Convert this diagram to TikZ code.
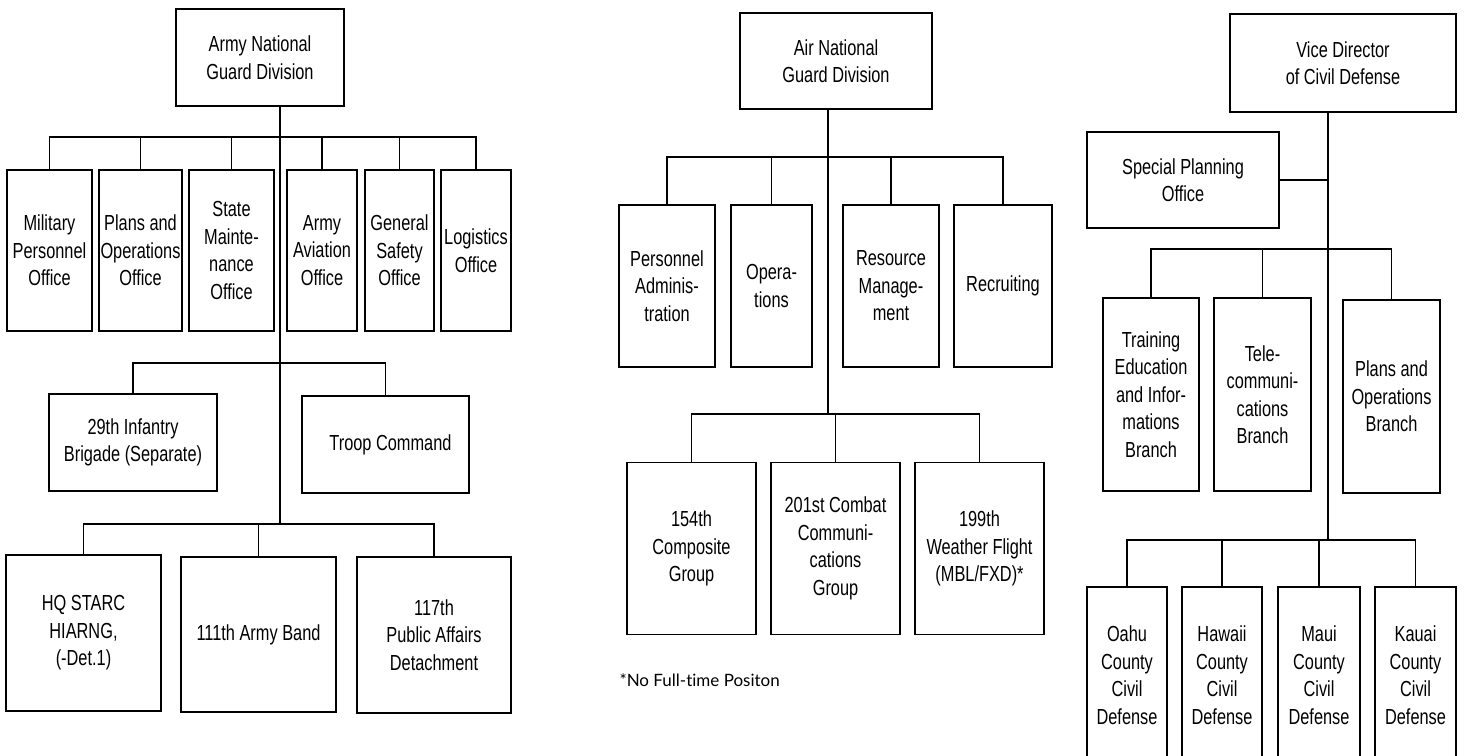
\documentclass[tikz,border=0pt]{standalone}
\usepackage{fontspec}
\setmainfont{Liberation Sans}[FakeStretch=0.75]
\newfontfamily\notefont{Lato}[Ligatures={NoCommon,NoRare}]
\tikzset{
  unit/.style={draw,line width=1.7pt,align=center,inner sep=0pt,
    font={\fontsize{21.8}{27.5}\selectfont}},
  link/.style={line width=1.7pt}
}
\begin{document}
\begin{tikzpicture}[x=1pt,y=-1pt]
  \useasboundingbox (0,0) rectangle (1464,755);
  \clip (0,0) rectangle (1464,755);

  % Army National Guard Division
  \node[unit,minimum width=168,minimum height=97] (arng) at (260,57.5) {Army National\\Guard Division};
  \coordinate (aj1) at (280,137);
  \coordinate (aj2) at (280,363);
  \coordinate (aj3) at (280,524);

  \node[unit,minimum width=85,minimum height=161] (mpo) at (49.5,250.5) {Military\\Personnel\\Office};
  \node[unit,minimum width=83,minimum height=161] (ppo) at (140.5,250.5) {Plans and\\Operations\\Office};
  \node[unit,minimum width=85,minimum height=161] (smo) at (231.5,250.5) {State\\Mainte-\\nance\\Office};
  \node[unit,minimum width=70,minimum height=161] (aao) at (322,250.5) {Army\\Aviation\\Office};
  \node[unit,minimum width=69,minimum height=161] (gso) at (399.5,250.5) {General\\Safety\\Office};
  \node[unit,minimum width=70,minimum height=161] (lgo) at (476,250.5) {Logistics\\Office};

  \node[unit,minimum width=168,minimum height=97] (ib) at (133,442.5) {29th Infantry\\Brigade (Separate)};
  \node[unit,minimum width=167,minimum height=97] (tc) at (385.5,444.5) {\hspace*{10pt}Troop Command};

  \node[unit,minimum width=155,minimum height=156] (hq) at (83.5,633) {HQ STARC\\HIARNG,\\(-Det.1)};
  \node[unit,minimum width=155,minimum height=155] (band) at (258.5,634.5) {111th Army Band};
  \node[unit,minimum width=154,minimum height=156] (pad) at (434,635) {117th\\Public Affairs\\Detachment};

  \draw[link] (arng.south -| aj1) -- (aj3);
  \draw[link] (mpo.north) |- (aj1) -| (lgo.north);
  \foreach \n in {ppo,smo,aao,gso}
    \draw[link] (\n.north) -- (\n.north |- aj1);
  \draw[link] (ib.north) |- (aj2) -| (tc.north);
  \draw[link] (hq.north) |- (aj3) -| (pad.north);
  \draw[link] (band.north) -- (band.north |- aj3);

  % Air National Guard Division
  \node[unit,minimum width=192,minimum height=96] (angd) at (836,61) {Air National\\Guard Division};
  \coordinate (nj1) at (828,157);
  \coordinate (nj2) at (828,414);

  \node[unit,minimum width=96,minimum height=162] (pa) at (667,286) {Personnel\\Adminis-\\tration};
  \node[unit,minimum width=81,minimum height=162] (ops) at (771.5,286) {Opera-\\tions};
  \node[unit,minimum width=96,minimum height=162] (rm) at (891,286) {Resource\\Manage-\\ment};
  \node[unit,minimum width=98,minimum height=162] (rec) at (1003,286) {Recruiting};

  \node[unit,minimum width=129,minimum height=172] (cg) at (691.5,548.5) {154th\\Composite\\Group};
  \node[unit,minimum width=129,minimum height=172] (ccg) at (835.5,548.5) {201st Combat\\Communi-\\cations\\Group};
  \node[unit,minimum width=129,minimum height=172] (wf) at (979.5,548.5) {199th\\Weather Flight\\(MBL/FXD)*};

  \node[anchor=west,font={\notefont\fontsize{17}{19}\selectfont}] (note) at (616,680) {*No Full-time Positon};

  \draw[link] (angd.south -| nj1) -- (nj2);
  \draw[link] (pa.north) |- (nj1) -| (rec.north);
  \foreach \n in {ops,rm}
    \draw[link] (\n.north) -- (\n.north |- nj1);
  \draw[link] (cg.north) |- (nj2) -| (wf.north);
  \draw[link] (ccg.north) -- (ccg.north |- nj2);

  % Vice Director of Civil Defense
  \node[unit,minimum width=226,minimum height=98] (vdcd) at (1343,63) {Vice Director\\of Civil Defense};
  \node[unit,minimum width=192,minimum height=96] (spo) at (1183,180) {Special Planning\\Office};
  \coordinate (cj1) at (1328,249);
  \coordinate (cj2) at (1328,540);

  \node[unit,minimum width=96,minimum height=193] (tei) at (1151,394.5) {Training\\Education\\and Infor-\\mations\\Branch};
  \node[unit,minimum width=97,minimum height=193] (tel) at (1262.5,394.5) {Tele-\\communi-\\cations\\Branch};
  \node[unit,minimum width=97,minimum height=193] (pob) at (1391.5,396.5) {Plans and\\Operations\\Branch};

  \node[unit,minimum width=80,minimum height=176] (oahu) at (1127,675) {Oahu\\County\\Civil\\Defense};
  \node[unit,minimum width=80,minimum height=176] (hawaii) at (1222,675) {Hawaii\\County\\Civil\\Defense};
  \node[unit,minimum width=82,minimum height=176] (maui) at (1319,675) {Maui\\County\\Civil\\Defense};
  \node[unit,minimum width=81,minimum height=176] (kauai) at (1415.5,675) {Kauai\\County\\Civil\\Defense};

  \draw[link] (vdcd.south -| cj1) -- (cj2);
  \draw[link] (spo.east) -- (spo.east -| cj1);
  \draw[link] (tei.north) |- (cj1) -| (pob.north);
  \draw[link] (tel.north) -- (tel.north |- cj1);
  \draw[link] (oahu.north) |- (cj2) -| (kauai.north);
  \foreach \n in {hawaii,maui}
    \draw[link] (\n.north) -- (\n.north |- cj2);
\end{tikzpicture}
\end{document}
